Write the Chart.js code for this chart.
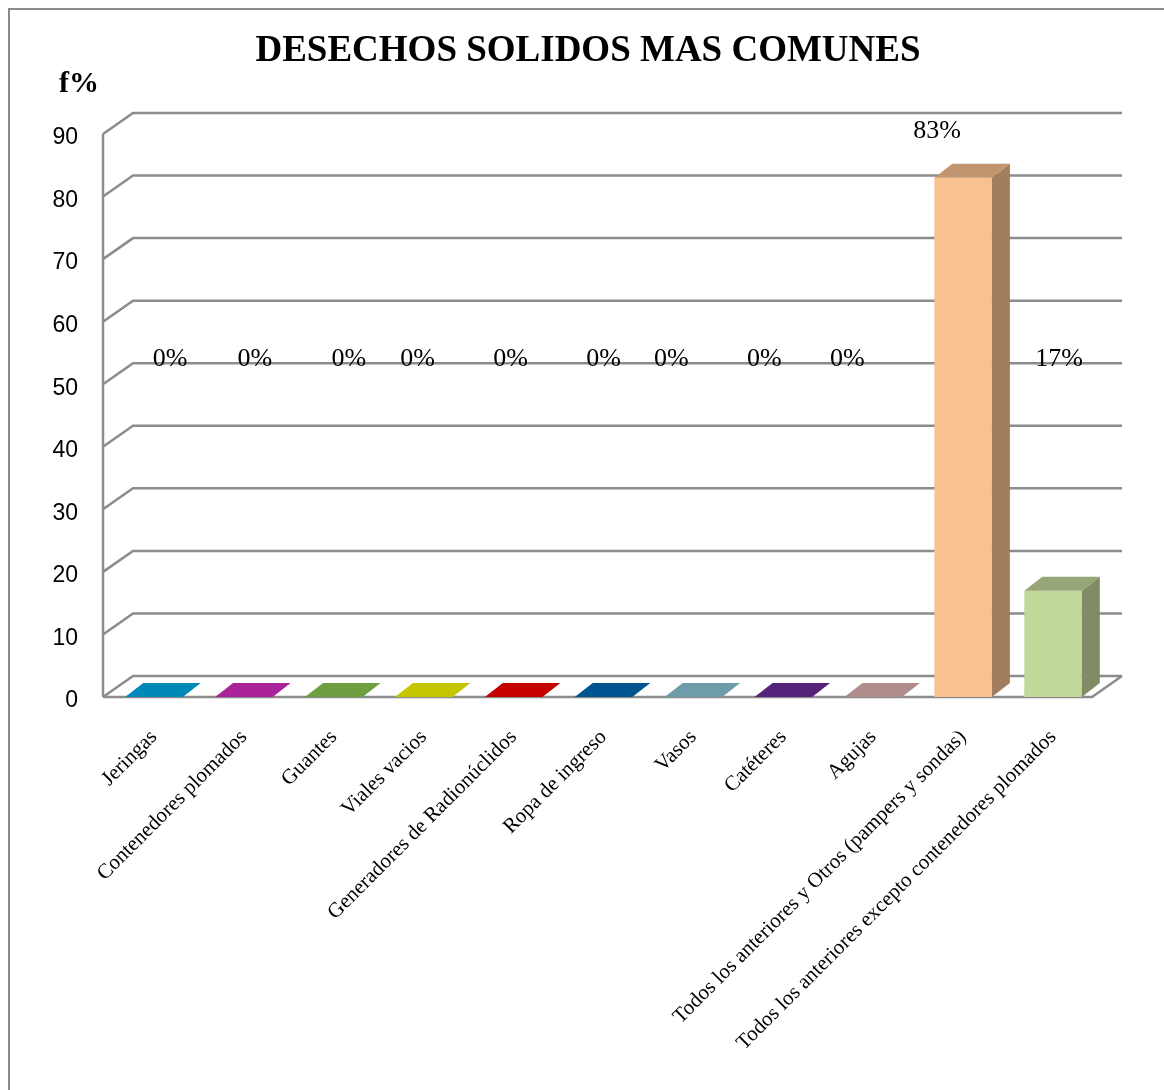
<!DOCTYPE html>
<html>
<head>
<meta charset="utf-8">
<title>Desechos solidos mas comunes</title>
<script src="https://cdn.jsdelivr.net/npm/chart.js@4.4.1/dist/chart.umd.min.js"></script>
<style>
  html, body { margin: 0; padding: 0; background: #fff; overflow: hidden; }
  #wrap { width: 1164px; height: 1090px; position: relative; }
</style>
</head>
<body>
<div id="wrap"><canvas id="chart"></canvas></div>
<script>
// Data
const chartTitle = 'DESECHOS SOLIDOS MAS COMUNES';
const yAxisTitle = 'f%';
const categories = [
    'Jeringas',
    'Contenedores plomados',
    'Guantes',
    'Viales vacios',
    'Generadores de Radionúclidos',
    'Ropa de ingreso',
    'Vasos',
    'Catéteres',
    'Agujas',
    'Todos los anteriores y Otros (pampers y sondas)',
    'Todos los anteriores excepto contenedores plomados'
];
const percentages = [0, 0, 0, 0, 0, 0, 0, 0, 0, 83, 17];
const valueLabels = ['0%', '0%', '0%', '0%', '0%', '0%', '0%', '0%', '0%', '83%', '17%'];
const yMin = 0;
const yMax = 90;
const yStep = 10;

const barColors = [
    '#0088b8', '#aa2298', '#6e9e40', '#c5c500', '#c50000',
    '#005590', '#6e9ca8', '#55237a', '#b08c8a', '#f9c190', '#c3d89b'
];

// 3D look
const WALL = { dx: 30, dy: -21 };
const BAR = { dx: 18, dy: -14 };
const WALL_SHIFT = 6;          // bars sit a little to the right of the front axis
const GRID_COLOR = '#8c8c8c';
const SERIF = '"Liberation Serif", "Times New Roman", serif';

function shade(hex, f) {
    const n = parseInt(hex.slice(1), 16);
    const r = Math.round(((n >> 16) & 255) * f);
    const g = Math.round(((n >> 8) & 255) * f);
    const b = Math.round((n & 255) * f);
    return `rgb(${r}, ${g}, ${b})`;
}

// page frame, back wall gridlines and floor
const wallPlugin = {
    id: 'wall3d',
    beforeDraw(chart) {
        const ctx = chart.ctx;
        ctx.save();
        ctx.strokeStyle = '#8a8a8a';
        ctx.lineWidth = 2;
        ctx.beginPath();
        ctx.moveTo(9, chart.height);
        ctx.lineTo(9, 9);
        ctx.lineTo(chart.width, 9);
        ctx.stroke();
        ctx.restore();
    },
    beforeDatasetsDraw(chart) {
        const { ctx, chartArea, scales: { y } } = chart;
        const x0 = chartArea.left - WALL_SHIFT;
        const x1 = chartArea.right - WALL_SHIFT;
        const p0 = y.getPixelForValue(yMin);

        ctx.save();
        ctx.strokeStyle = GRID_COLOR;
        ctx.lineWidth = 2.5;
        ctx.beginPath();
        y.ticks.forEach(t => {
            const py = y.getPixelForValue(t.value);
            ctx.moveTo(x0, py);
            ctx.lineTo(x0 + WALL.dx, py + WALL.dy);
            ctx.lineTo(x1 + WALL.dx, py + WALL.dy);
        });
        // front vertical axis
        ctx.moveTo(x0, p0);
        ctx.lineTo(x0, y.getPixelForValue(yMax));
        // floor front edge and right side
        ctx.moveTo(x0, p0);
        ctx.lineTo(x1, p0);
        ctx.lineTo(x1 + WALL.dx, p0 + WALL.dy);
        ctx.stroke();
        ctx.restore();
    }
};

// top and side faces of the bars, value labels, titles
const barsPlugin = {
    id: 'bars3d',
    afterDatasetsDraw(chart, args, opts) {
        const { ctx, scales: { y } } = chart;
        const meta = chart.getDatasetMeta(0);
        ctx.save();
        meta.data.forEach((bar, i) => {
            const { x, y: top, base, width } = bar.getProps(['x', 'y', 'base', 'width'], true);
            const l = x - width / 2;
            const r = x + width / 2;
            const c = barColors[i];
            const tall = percentages[i] > 0;

            if (tall) {
                ctx.fillStyle = shade(c, 0.65);
                ctx.beginPath();
                ctx.moveTo(r, top);
                ctx.lineTo(r + BAR.dx, top + BAR.dy);
                ctx.lineTo(r + BAR.dx, base + BAR.dy);
                ctx.lineTo(r, base);
                ctx.closePath();
                ctx.fill();
            }
            ctx.fillStyle = tall ? shade(c, 0.77) : c;
            ctx.beginPath();
            ctx.moveTo(l, top);
            ctx.lineTo(l + BAR.dx, top + BAR.dy);
            ctx.lineTo(r + BAR.dx, top + BAR.dy);
            ctx.lineTo(r, top);
            ctx.closePath();
            ctx.fill();
        });

        // value labels
        ctx.fillStyle = '#000';
        ctx.font = '26px ' + SERIF;
        ctx.textAlign = 'center';
        ctx.textBaseline = 'middle';
        const level = y.getPixelForValue(opts.labelLevel);
        meta.data.forEach((bar, i) => {
            const topFace = bar.y + BAR.dy;
            const ly = topFace < level ? topFace - 33 : level;
            ctx.fillText(valueLabels[i], bar.x + opts.nudgeX[i], ly);
        });
        ctx.restore();
    },
    afterDraw(chart) {
        const ctx = chart.ctx;
        ctx.save();
        ctx.fillStyle = '#000';
        ctx.textAlign = 'center';
        ctx.textBaseline = 'middle';
        ctx.font = 'bold 37px ' + SERIF;
        ctx.fillText(chartTitle, 588, 51);
        ctx.font = 'bold 30px ' + SERIF;
        ctx.fillText(yAxisTitle, 79, 84);
        ctx.restore();
    }
};

const ctx = document.getElementById('chart').getContext('2d');
const chart = new Chart(ctx, {
    type: 'bar',
    data: {
        labels: categories,
        datasets: [{
            data: percentages,
            backgroundColor: barColors,
            borderWidth: 0,
            barPercentage: 0.64,
            categoryPercentage: 1
        }]
    },
    options: {
        responsive: true,
        maintainAspectRatio: false,
        animation: false,
        events: [],
        layout: {
            padding: { left: 0, right: 66, top: 134, bottom: 0 }
        },
        plugins: {
            legend: { display: false },
            tooltip: { enabled: false },
            title: { display: false },
            bars3d: {
                labelLevel: 54,
                nudgeX: [16, 11, 15, -6, -3, 0, -22, -19, -26, -26, 6]
            }
        },
        scales: {
            x: {
                grid: { display: false },
                border: { display: false },
                ticks: {
                    color: '#000',
                    autoSkip: false,
                    maxRotation: 45,
                    minRotation: 45,
                    padding: 20,
                    font: { family: SERIF, size: 21 }
                },
                afterFit(scale) { scale.height = 393; }
            },
            y: {
                min: yMin,
                max: yMax,
                grid: { display: false },
                border: { display: false },
                ticks: {
                    stepSize: yStep,
                    color: '#000',
                    padding: 23,
                    labelOffset: 4,
                    font: { family: '"Liberation Sans", Arial, sans-serif', size: 23 }
                },
                afterFit(scale) { scale.width = 109; }
            }
        }
    },
    plugins: [wallPlugin, barsPlugin]
});
</script>
</body>
</html>
